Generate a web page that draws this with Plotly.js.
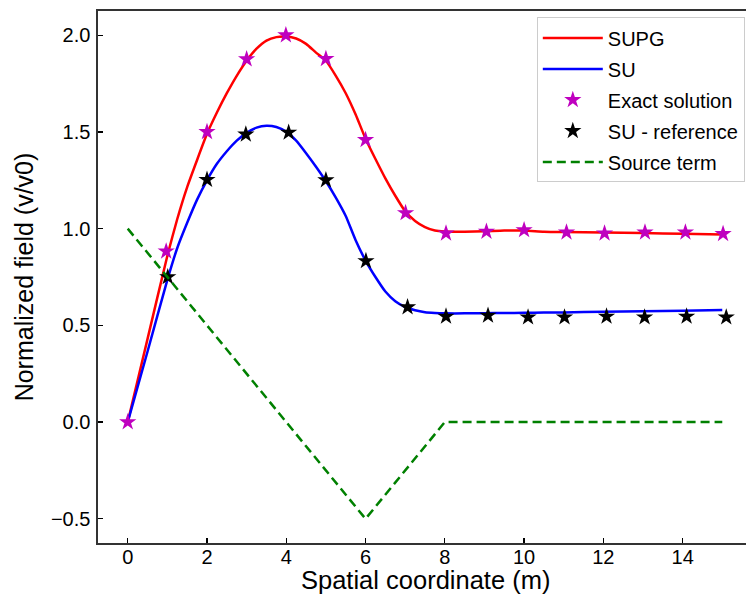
<!DOCTYPE html>
<html>
<head>
<meta charset="utf-8">
<script src="https://cdn.plot.ly/plotly-3.0.1.min.js"></script>
<style>
html, body { margin: 0; padding: 0; overflow: hidden; background: #fff; }
#chart { width: 752px; height: 606px; }
</style>
</head>
<body>
<div id="chart"></div>
<script>
// Continuous solutions
const xCurve = [0, 0.5, 1, 1.25, 1.5, 1.75, 2, 2.25, 2.5, 2.75, 3, 3.25, 3.5, 3.75, 4, 4.25, 4.5, 4.75, 5, 5.25, 5.5, 5.75, 6, 6.25, 6.5, 6.75, 7, 7.25, 7.5, 7.75, 8, 8.5, 9, 9.5, 10, 10.5, 11, 12, 13, 14, 15];
const supgY = [0, 0.43, 0.86, 1.05, 1.215, 1.355, 1.49, 1.60, 1.70, 1.79, 1.868, 1.93, 1.972, 1.99, 1.993, 1.983, 1.955, 1.91, 1.868, 1.79, 1.70, 1.59, 1.465, 1.36, 1.26, 1.17, 1.09, 1.04, 1.008, 0.99, 0.985, 0.984, 0.986, 0.99, 0.99, 0.984, 0.982, 0.98, 0.977, 0.974, 0.97];
const suY = [0, 0.365, 0.735, 0.90, 1.03, 1.15, 1.25, 1.335, 1.40, 1.455, 1.495, 1.522, 1.532, 1.525, 1.50, 1.455, 1.39, 1.32, 1.245, 1.16, 1.065, 0.94, 0.835, 0.75, 0.675, 0.625, 0.595, 0.578, 0.568, 0.564, 0.562, 0.562, 0.563, 0.564, 0.565, 0.566, 0.567, 0.57, 0.573, 0.576, 0.58];

// Exact solution markers
const exactX = [0, 0.97, 2.0, 3.0, 3.99, 5.0, 6.0, 7.01, 8.03, 9.05, 10.0, 11.07, 12.03, 13.05, 14.07, 15.02];
const exactY = [0, 0.883, 1.50, 1.876, 2.0, 1.878, 1.459, 1.081, 0.976, 0.985, 0.993, 0.981, 0.976, 0.981, 0.981, 0.973];

// SU reference markers
const refX = [1.01, 2.0, 2.98, 4.06, 5.0, 6.01, 7.06, 8.03, 9.09, 10.1, 11.02, 12.08, 13.04, 14.1, 15.1];
const refY = [0.75, 1.253, 1.487, 1.497, 1.251, 0.833, 0.594, 0.546, 0.551, 0.542, 0.542, 0.546, 0.542, 0.546, 0.542];

// Source term
const srcX = [0, 6, 8, 15];
const srcY = [1, -0.5, 0, 0];

const FONT = 'Liberation Sans, Arial, Helvetica, sans-serif';

const traces = [
  {x: xCurve, y: supgY, mode: 'lines', name: 'SUPG', legendgroup: 'a',
   line: {color: '#ff0000', width: 2.5, shape: 'spline', smoothing: 0.5}},
  {x: xCurve, y: suY, mode: 'lines', name: 'SU', legendgroup: 'b',
   line: {color: '#0000ff', width: 2.5, shape: 'spline', smoothing: 0.5}},
  {x: exactX, y: exactY, mode: 'markers', name: 'Exact solution', legendgroup: 'c',
   marker: {symbol: 'star', size: 13, color: '#bf00bf', line: {width: 0}}},
  {x: refX, y: refY, mode: 'markers', name: 'SU - reference', legendgroup: 'd',
   marker: {symbol: 'star', size: 13, color: '#000000', line: {width: 0}}},
  {x: srcX, y: srcY, mode: 'lines', name: 'Source term', legendgroup: 'e',
   line: {color: '#008000', width: 2.5, dash: '9px,5px'}}
];

const layout = {
  width: 752, height: 606,
  margin: {l: 98, r: 0, t: 11, b: 63, pad: 0},
  paper_bgcolor: '#ffffff', plot_bgcolor: '#ffffff',
  font: {family: FONT, size: 20, color: '#000'},
  showlegend: true,
  xaxis: {
    range: [-0.75, 15.75], tickvals: [0, 2, 4, 6, 8, 10, 12, 14],
    ticktext: ['0', '2', '4', '6', '8', '10', '12', '14'],
    ticks: 'inside', ticklen: 5, tickwidth: 1.3, tickcolor: '#000',
    ticklabelstandoff: -5,
    showline: true, linecolor: '#333', linewidth: 1.6, mirror: true,
    showgrid: false, zeroline: false,
    tickfont: {family: FONT, size: 20, color: '#000'}
  },
  yaxis: {
    range: [-0.625, 2.125], tickvals: [-0.5, 0, 0.5, 1.0, 1.5, 2.0],
    ticktext: ['\u22120.5', '0.0', '0.5', '1.0', '1.5', '2.0'],
    ticks: 'inside', ticklen: 5, tickwidth: 1.3, tickcolor: '#000',
    ticklabelstandoff: 2,
    showline: true, linecolor: '#333', linewidth: 1.6, mirror: true,
    showgrid: false, zeroline: false,
    tickfont: {family: FONT, size: 20, color: '#000'},
    title: {text: 'Normalized field (v/v0)', font: {family: FONT, size: 25, color: '#000'}, standoff: 10}
  },
  annotations: [{
    text: 'Spatial coordinate (m)', xref: 'paper', yref: 'paper',
    x: 0.5, y: -0.07, xanchor: 'center', yanchor: 'middle', showarrow: false,
    font: {family: FONT, size: 25.5, color: '#000'}
  }],
  legend: {
    x: 0.989, y: 0.988, xanchor: 'right', yanchor: 'top',
    bgcolor: 'rgba(255,255,255,0.8)', bordercolor: '#cccccc', borderwidth: 1,
    font: {family: FONT, size: 20, color: '#000'},
    tracegroupgap: 2, itemwidth: 60
  }
};

Plotly.newPlot('chart', traces, layout, {displayModeBar: false, staticPlot: true});
</script>
</body>
</html>
